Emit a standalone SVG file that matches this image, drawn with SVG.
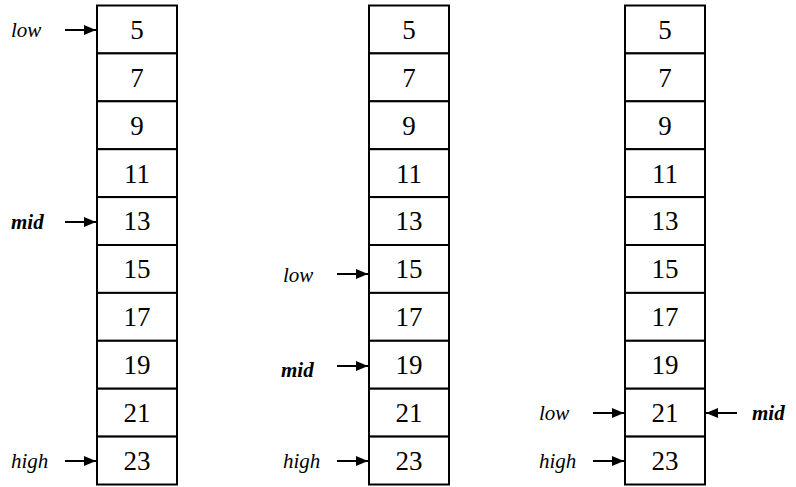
<svg xmlns="http://www.w3.org/2000/svg" width="796" height="487" viewBox="0 0 796 487">
  <style>
    .cell { fill: #fff; stroke: #000; stroke-width: 2; }
    .num { font-family: "Liberation Serif", "Times New Roman", serif; font-size: 27px; text-anchor: middle; fill: #000; }
    .lbl { font-family: "Liberation Serif", "Times New Roman", serif; font-size: 21px; font-style: italic; fill: #000; }
    .bold { font-weight: bold; }
    .arrow { stroke: #000; stroke-width: 2; fill: none; marker-end: url(#head); }
  </style>
  <defs>
    <marker id="head" viewBox="0 0 12 10" refX="12" refY="5" markerWidth="12" markerHeight="10" markerUnits="userSpaceOnUse" orient="auto">
      <path d="M0,0 L12,5 L0,10 Z" fill="#000"/>
    </marker>
    <!-- one column of ten cells, 80 wide, 47.9 tall each -->
    <g id="column">
      <rect class="cell" x="0" y="5.5" width="80" height="47.9"/>
      <rect class="cell" x="0" y="53.4" width="80" height="47.9"/>
      <rect class="cell" x="0" y="101.3" width="80" height="47.9"/>
      <rect class="cell" x="0" y="149.2" width="80" height="47.9"/>
      <rect class="cell" x="0" y="197.1" width="80" height="47.9"/>
      <rect class="cell" x="0" y="245" width="80" height="47.9"/>
      <rect class="cell" x="0" y="292.9" width="80" height="47.9"/>
      <rect class="cell" x="0" y="340.8" width="80" height="47.9"/>
      <rect class="cell" x="0" y="388.7" width="80" height="47.9"/>
      <rect class="cell" x="0" y="436.6" width="80" height="47.9"/>
      <text class="num" x="40" y="38.8">5</text>
      <text class="num" x="40" y="86.7">7</text>
      <text class="num" x="40" y="134.6">9</text>
      <text class="num" x="40" y="182.5">11</text>
      <text class="num" x="40" y="230.4">13</text>
      <text class="num" x="40" y="278.3">15</text>
      <text class="num" x="40" y="326.2">17</text>
      <text class="num" x="40" y="374.1">19</text>
      <text class="num" x="40" y="422">21</text>
      <text class="num" x="40" y="469.9">23</text>
    </g>
  </defs>

  <!-- step 1: low=0, mid=4, high=9 -->
  <g id="array1">
    <use href="#column" x="97" y="0"/>
    <text class="lbl" x="11" y="37">low</text>
    <text class="lbl bold" x="11" y="229">mid</text>
    <text class="lbl" x="11" y="468">high</text>
  </g>

  <!-- step 2: low=5, mid=7, high=9 -->
  <g id="array2">
    <use href="#column" x="369" y="0"/>
    <text class="lbl" x="283" y="282">low</text>
    <text class="lbl bold" x="281" y="377">mid</text>
    <text class="lbl" x="283" y="468">high</text>
  </g>

  <!-- step 3: low=mid=8, high=9 -->
  <g id="array3">
    <use href="#column" x="625" y="0"/>
    <text class="lbl" x="539" y="420">low</text>
    <text class="lbl" x="539" y="468">high</text>
    <text class="lbl bold" x="752" y="420">mid</text>
  </g>

  <g id="connectors">
    <line class="arrow" x1="65" y1="30" x2="96" y2="30"/>
    <line class="arrow" x1="65" y1="222" x2="96" y2="222"/>
    <line class="arrow" x1="65" y1="461" x2="96" y2="461"/>
    <line class="arrow" x1="337" y1="274" x2="368" y2="274"/>
    <line class="arrow" x1="337" y1="366" x2="368" y2="366"/>
    <line class="arrow" x1="337" y1="461" x2="368" y2="461"/>
    <line class="arrow" x1="593" y1="413" x2="624" y2="413"/>
    <line class="arrow" x1="593" y1="461" x2="624" y2="461"/>
    <line class="arrow" x1="737" y1="413" x2="706" y2="413"/>
  </g>
</svg>
